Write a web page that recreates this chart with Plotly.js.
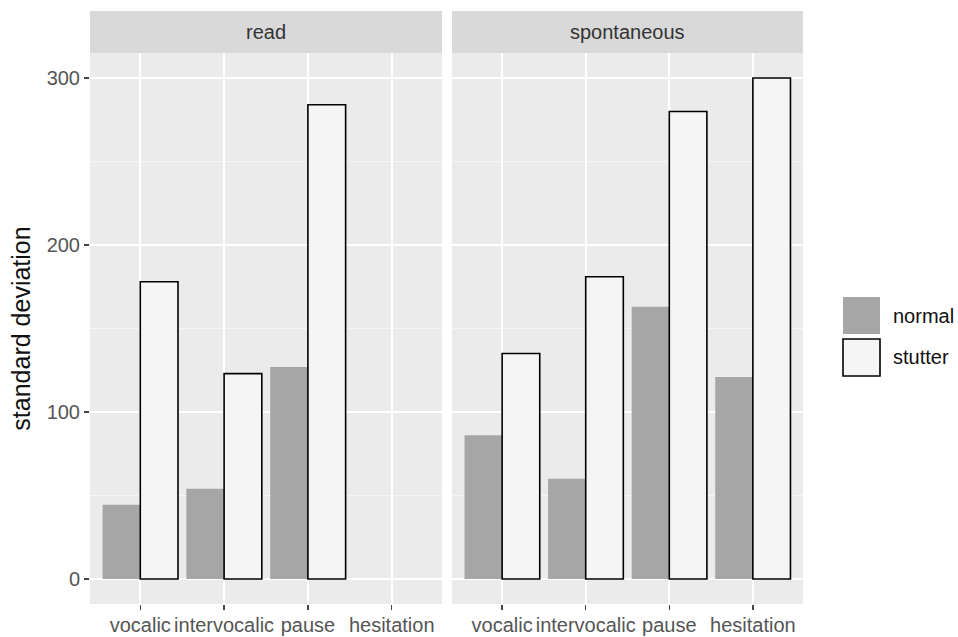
<!DOCTYPE html>
<html>
<head>
<meta charset="utf-8">
<script src="https://cdn.plot.ly/plotly-3.0.1.min.js"></script>
<style>html,body{margin:0;padding:0;background:#fff;}#chart{width:958px;height:637px;}</style>
</head>
<body>
<div id="chart"></div>
<script>
const categories = ["vocalic", "intervocalic", "pause", "hesitation"];
const panels = ["read", "spontaneous"];
const readNormal = [44.5, 54, 127, null];
const readStutter = [178, 123, 284, null];
const spontNormal = [86, 60, 163, 121];
const spontStutter = [135, 181, 280, 300];
const yTicks = [0, 100, 200, 300];
const seriesNames = ["normal", "stutter"];

const W = 958, H = 637;
const px = v => v / W;
const py = v => 1 - v / H;

const normalColor = "#a6a6a6";
const stutterColor = "#f5f5f5";
const font = "Liberation Sans, Arial, sans-serif";

function bar(name, y, xa, ya, isStutter) {
  return {
    type: "bar", name: name, x: categories, y: y, xaxis: xa, yaxis: ya,
    offsetgroup: name, showlegend: false, hoverinfo: "x+y",
    marker: {
      color: isStutter ? stutterColor : normalColor,
      line: {color: isStutter ? "#000" : normalColor, width: isStutter ? 1.6 : 0}
    }
  };
}

const data = [
  bar(seriesNames[0], readNormal, "x", "y", false),
  bar(seriesNames[1], readStutter, "x", "y", true),
  bar(seriesNames[0], spontNormal, "x2", "y2", false),
  bar(seriesNames[1], spontStutter, "x2", "y2", true)
];

const xBase = {
  type: "category", range: [-0.6, 3.6], categoryorder: "array", categoryarray: categories,
  showgrid: true, gridcolor: "#ffffff", gridwidth: 2, zeroline: false, showline: false,
  ticks: "outside", ticklen: 5, tickwidth: 1.5, tickcolor: "#444", ticklabelstandoff: -2,
  tickfont: {family: font, size: 20, color: "#555"}, fixedrange: true
};
const yBase = {
  range: [-15, 315], tickvals: yTicks, showgrid: true, gridcolor: "#ffffff", gridwidth: 2,
  zeroline: false, showline: false,
  minor: {tickvals: [50, 150, 250], showgrid: true, gridcolor: "#f5f5f5", gridwidth: 1, ticks: ""},
  fixedrange: true
};

const layout = {
  width: W, height: H,
  margin: {l: 0, r: 0, t: 0, b: 0},
  paper_bgcolor: "#ffffff", plot_bgcolor: "#ebebeb",
  barmode: "group", bargap: 0.1, bargroupgap: 0,
  showlegend: false,
  font: {family: font},
  xaxis: Object.assign({}, xBase, {domain: [px(90), px(442)], anchor: "y"}),
  xaxis2: Object.assign({}, xBase, {domain: [px(452), px(803)], anchor: "y2"}),
  yaxis: Object.assign({}, yBase, {
    domain: [py(604), py(53)], anchor: "x",
    ticks: "outside", ticklen: 5, tickwidth: 1.5, tickcolor: "#444",
    tickfont: {family: font, size: 20, color: "#555"},
    title: {text: "standard deviation", font: {family: font, size: 25, color: "#111"}, standoff: 8}
  }),
  yaxis2: Object.assign({}, yBase, {
    domain: [py(604), py(53)], anchor: "x2", matches: "y", showticklabels: false, ticks: ""
  }),
  shapes: [
    {type: "rect", xref: "paper", yref: "paper", x0: px(90), x1: px(442), y0: py(53), y1: py(11), fillcolor: "#d9d9d9", line: {width: 0}, layer: "below"},
    {type: "rect", xref: "paper", yref: "paper", x0: px(452), x1: px(803), y0: py(53), y1: py(11), fillcolor: "#d9d9d9", line: {width: 0}, layer: "below"},
    {type: "rect", xref: "paper", yref: "paper", x0: px(843), x1: px(880), y0: py(334), y1: py(297), fillcolor: normalColor, line: {width: 0}},
    {type: "rect", xref: "paper", yref: "paper", x0: px(843), x1: px(880), y0: py(376), y1: py(339), fillcolor: stutterColor, line: {color: "#000", width: 1.6}}
  ],
  annotations: [
    {xref: "paper", yref: "paper", x: px(266), y: py(32), text: panels[0], showarrow: false, xanchor: "center", yanchor: "middle", font: {family: font, size: 20, color: "#333"}},
    {xref: "paper", yref: "paper", x: px(627.5), y: py(32), text: panels[1], showarrow: false, xanchor: "center", yanchor: "middle", font: {family: font, size: 20, color: "#333"}},
    {xref: "paper", yref: "paper", x: px(891), y: py(316), text: seriesNames[0], showarrow: false, xanchor: "left", yanchor: "middle", font: {family: font, size: 20, color: "#111"}},
    {xref: "paper", yref: "paper", x: px(891), y: py(357), text: seriesNames[1], showarrow: false, xanchor: "left", yanchor: "middle", font: {family: font, size: 20, color: "#111"}}
  ]
};

Plotly.newPlot("chart", data, layout, {displayModeBar: false, staticPlot: true});
</script>
</body>
</html>
